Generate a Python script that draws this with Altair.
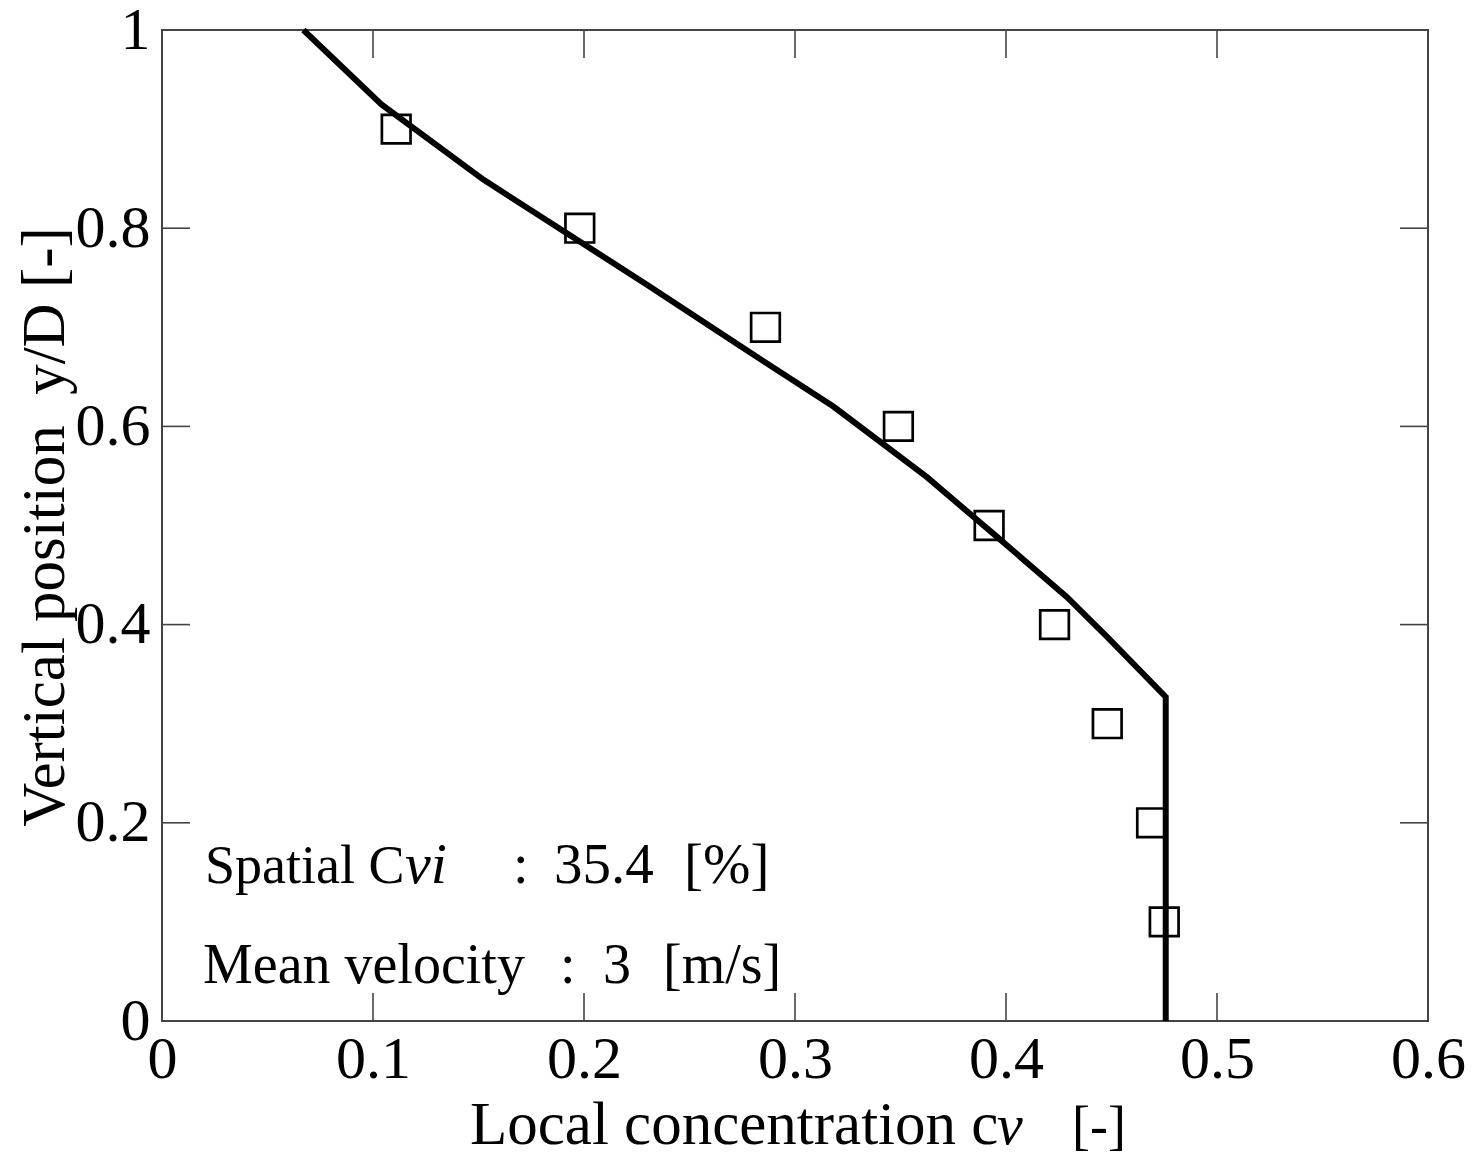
import altair as alt
import pandas as pd

# ---- data ----
exp_cv = [0.475, 0.469, 0.448, 0.423, 0.392, 0.349, 0.286, 0.198, 0.111]
exp_y = [0.1, 0.2, 0.3, 0.4, 0.5, 0.6, 0.7, 0.8, 0.9]

sim_cv = [0.0670, 0.1040, 0.1523, 0.2313, 0.2755, 0.3182, 0.3624, 0.3955,
          0.4288, 0.4477, 0.4757, 0.4757]
sim_y = [1.000, 0.925, 0.849, 0.741, 0.679, 0.620, 0.549, 0.489,
         0.428, 0.388, 0.327, 0.000]

x_ticks = [0, 0.1, 0.2, 0.3, 0.4, 0.5, 0.6]
y_ticks = [0, 0.2, 0.4, 0.6, 0.8, 1]
x_inner = [0.1, 0.2, 0.3, 0.4, 0.5]
y_inner = [0.2, 0.4, 0.6, 0.8]

title_x = ["Local concentration c", "v", "[-]"]
title_y = "Vertical\u00a0position\u00a0\u00a0y/D\u00a0[-]"
note1 = ["Spatial C", "vi", ":", "35.4", "[%]"]
note2 = ["Mean velocity", ":", "3", "[m/s]"]

FONT = "Liberation Serif"
W, H = 1266, 991
TICK = 28

exp_df = pd.DataFrame({"cv": exp_cv, "y": exp_y})
sim_df = pd.DataFrame({"cv": sim_cv, "y": sim_y, "o": list(range(len(sim_cv)))})
xt_df = pd.DataFrame({"cv": x_inner})
yt_df = pd.DataFrame({"y": y_inner})
dummy = pd.DataFrame({"a": [0]})

xs = alt.Scale(domain=[0, 0.6], nice=False, zero=False)
ys = alt.Scale(domain=[0, 1], nice=False, zero=False)

xaxis = alt.Axis(values=x_ticks, ticks=False, tickSize=0, domain=False, grid=False,
                 labelFont=FONT, labelFontSize=60, labelColor="black",
                 labelPadding=9, labelFlush=False, labelOverlap=False,
                 labelBound=False, format="~g", title=None)
yaxis = alt.Axis(values=y_ticks, ticks=False, tickSize=0, domain=False, grid=False,
                 labelFont=FONT, labelFontSize=60, labelColor="black",
                 labelPadding=12, labelFlush=False, labelOverlap=False,
                 labelBound=False, format="~g", title=None)

X = alt.X("cv:Q", scale=xs, axis=xaxis)
Y = alt.Y("y:Q", scale=ys, axis=yaxis)

points = alt.Chart(exp_df).mark_point(
    shape="square", filled=False, size=820, strokeWidth=2.7, color="black", opacity=1
).encode(x=X, y=Y)

line = alt.Chart(sim_df).mark_line(color="black", strokeWidth=6).encode(
    x=X, y=Y, order="o:Q")

tick_style = dict(color="#444444", strokeWidth=1.6)
tb = alt.Chart(xt_df).mark_rule(**tick_style).encode(
    x=X, y=alt.value(H), y2=alt.value(H - TICK))
tt = alt.Chart(xt_df).mark_rule(**tick_style).encode(
    x=X, y=alt.value(0), y2=alt.value(TICK))
tl = alt.Chart(yt_df).mark_rule(**tick_style).encode(
    y=Y, x=alt.value(0), x2=alt.value(TICK))
tr = alt.Chart(yt_df).mark_rule(**tick_style).encode(
    y=Y, x=alt.value(W), x2=alt.value(W - TICK))


def label(txt, x, y, size, italic=False, align="left", angle=0, baseline="alphabetic"):
    kw = dict(text=txt, font=FONT, fontSize=size, align=align, baseline=baseline,
              color="black", fontStyle="italic" if italic else "normal")
    if angle:
        kw["angle"] = angle
    return alt.Chart(dummy).mark_text(**kw).encode(x=alt.value(x), y=alt.value(y))


texts = [
    # x-axis title
    label(title_x[0], 308, 1114, 61),
    label(title_x[1], 835, 1114, 58, italic=True),
    label(title_x[2], 910, 1114, 54),
    # y-axis title
    label(title_y, -116, 497, 61, align="center", angle=270, baseline="middle"),
    # annotation row 1
    label(note1[0], 43, 853, 54),
    label(note1[1], 243, 853, 58, italic=True),
    label(note1[2], 351, 853, 56),
    label(note1[3], 392, 853, 57),
    label(note1[4], 522, 853, 57),
    # annotation row 2
    label(note2[0], 41, 953, 56),
    label(note2[1], 398, 953, 56),
    label(note2[2], 441, 953, 56),
    label(note2[3], 501, 953, 56),
]

chart = alt.layer(points, line, tb, tt, tl, tr, *texts).properties(
    width=W, height=H,
    padding={"left": 154, "top": 22, "right": 38, "bottom": 140},
    autosize=alt.AutoSizeParams(type="none"),
    background="white",
).configure_view(stroke="#444444", strokeWidth=2)

chart.save("out.html", embed_options={"renderer": "svg", "actions": False})
